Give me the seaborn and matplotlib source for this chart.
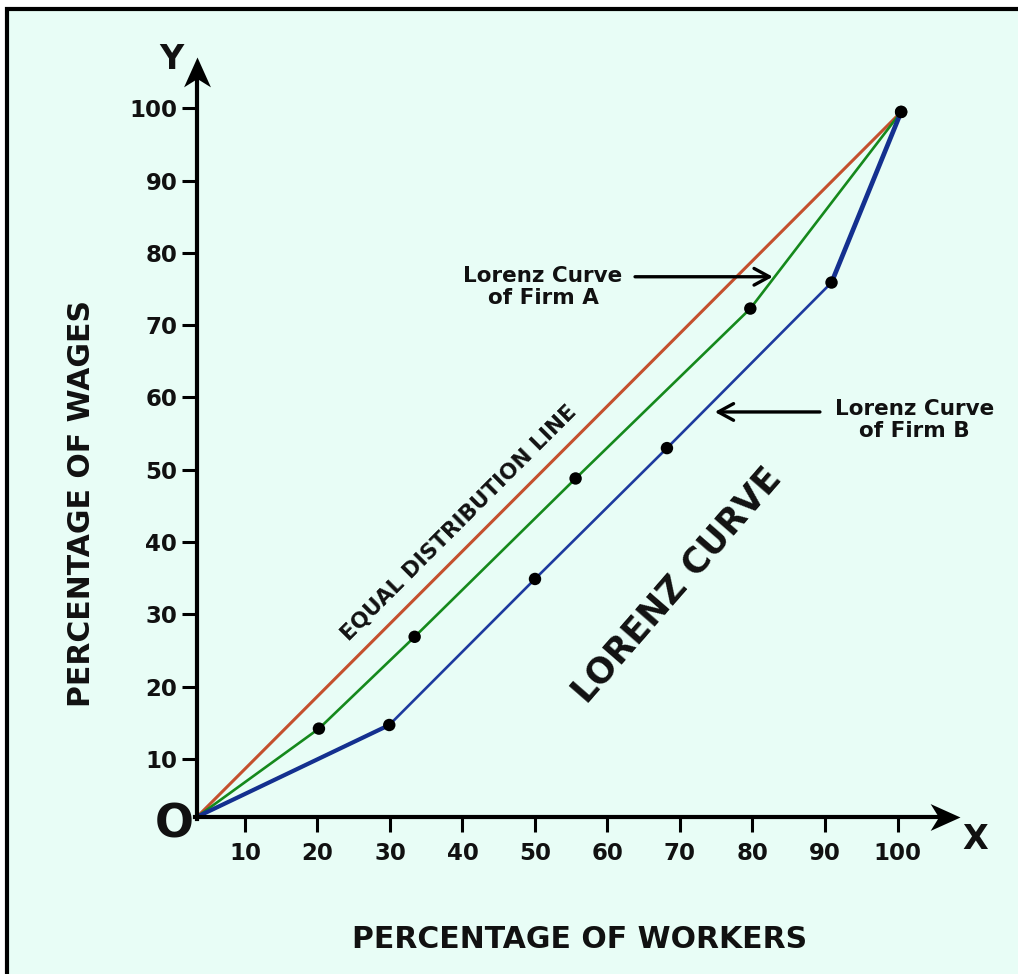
import numpy as np
import pandas as pd
import seaborn as sns
import matplotlib.pyplot as plt
from matplotlib.path import Path
from matplotlib.patches import Rectangle


# values (percent of workers, percent of wages)
equal_x = [3.4, 100.5]
equal_y = [2.0, 99.5]

firm_a_x = [3.4, 20.2, 33.4, 55.6, 79.7, 100.5]
firm_a_y = [2.0, 14.2, 26.9, 48.8, 72.3, 99.5]

firm_b_x = [3.4, 29.9, 50.0, 68.2, 90.9, 100.5]
firm_b_y = [2.0, 14.7, 34.9, 53.0, 75.9, 99.5]

tick_values = [10, 20, 30, 40, 50, 60, 70, 80, 90, 100]

BG = "#e8fdf6"
RED = "#c4502e"
GREEN = "#15891c"
BLUE = "#1d3a9e"
BLUE_DARK = "#14308f"
INK = "#111111"


sns.set_style("white")
plt.rcParams["font.family"] = ["DejaVu Sans"]
plt.rcParams["font.weight"] = "bold"
plt.rcParams["text.color"] = INK

fig = plt.figure(figsize=(10.18, 9.74), dpi=100)
fig.patch.set_facecolor("white")

# cyan panel with black frame (cut on the right and bottom)
frame = Rectangle((7 / 1018, -0.1), 1.2, 1.1 - 9 / 974, transform=fig.transFigure,
                  facecolor=BG, edgecolor="black", linewidth=3, zorder=-1)
fig.add_artist(frame)

ax = fig.add_axes([0, 0, 1, 1])
ax.set_facecolor("none")

x0, y0 = firm_a_x[0], firm_a_y[0]

ax.set_xlim(-23.79, 116.62)
ax.set_ylim(-19.74, 114.98)

for side in ["top", "right"]:
	ax.spines[side].set_visible(False)

ax.spines["left"].set_position(("data", x0))
ax.spines["bottom"].set_position(("data", y0))
ax.spines["left"].set_bounds(y0 - 0.25, 105)
ax.spines["bottom"].set_bounds(x0 - 0.25, 106)
for side in ["left", "bottom"]:
	ax.spines[side].set_linewidth(3)
	ax.spines[side].set_color("black")

ax.set_xticks(tick_values)
ax.set_yticks(tick_values)
ax.tick_params(axis="both", bottom=True, left=True, direction="out", length=10.8, width=2.2,
               color="black", labelsize=16.5, labelcolor=INK)
ax.tick_params(axis="x", pad=7)
ax.tick_params(axis="y", pad=3.5)

# arrow heads at the ends of the axes
head_x = Path([(0, 0), (-1, 0.45), (-0.72, 0), (-1, -0.45), (0, 0)],
              [Path.MOVETO, Path.LINETO, Path.LINETO, Path.LINETO, Path.CLOSEPOLY])
head_y = Path([(0, 0), (0.45, -1), (0, -0.72), (-0.45, -1), (0, 0)],
              [Path.MOVETO, Path.LINETO, Path.LINETO, Path.LINETO, Path.CLOSEPOLY])
ax.plot([108.6], [y0], marker=head_x, markersize=43, color="black", markeredgewidth=0, clip_on=False)
ax.plot([x0], [107.1], marker=head_y, markersize=43, color="black", markeredgewidth=0, clip_on=False)

# curves
sns.lineplot(x=equal_x, y=equal_y, color=RED, linewidth=2.2, estimator=None, sort=False, ax=ax)
sns.lineplot(x=firm_a_x, y=firm_a_y, color=GREEN, linewidth=1.9, estimator=None, sort=False, ax=ax)
sns.lineplot(x=firm_b_x, y=firm_b_y, color=BLUE, linewidth=1.9, estimator=None, sort=False, ax=ax)
# the first and last segments of firm B are drawn heavier
sns.lineplot(x=firm_b_x[:2], y=firm_b_y[:2], color=BLUE_DARK, linewidth=3.0, estimator=None, sort=False, ax=ax)
sns.lineplot(x=firm_b_x[-2:], y=firm_b_y[-2:], color=BLUE_DARK, linewidth=3.4, estimator=None, sort=False, ax=ax)

dots = pd.DataFrame({
	"workers": firm_a_x[1:] + firm_b_x[1:],
	"wages": firm_a_y[1:] + firm_b_y[1:],
})
sns.scatterplot(data=dots, x="workers", y="wages", color="black", s=80, edgecolor="none", zorder=5, ax=ax)
ax.set_xlabel("")
ax.set_ylabel("")

# labels
ax.text(-0.1, 106.8, "Y", fontsize=24, ha="center", va="center")
ax.text(110.7, -1.1, "X", fontsize=24, ha="center", va="center")
ax.text(0.3, 0.9, "O", fontsize=33, ha="center", va="center")

ax.text(56.2, -14.9, "PERCENTAGE OF WORKERS", fontsize=21.5, ha="center", va="center")
ax.text(-12.6, 45.4, "PERCENTAGE OF WAGES", fontsize=21.5, ha="center", va="center", rotation=90)

ax.text(39.5, 42.6, "EQUAL DISTRIBUTION LINE", fontsize=15.5, ha="center", va="center",
        rotation=45, rotation_mode="anchor")
ax.text(69.6, 34.0, "LORENZ CURVE", fontsize=25, ha="center", va="center",
        rotation=49, rotation_mode="anchor")

ax.text(51.1, 75.3, "Lorenz Curve\nof Firm A", fontsize=15.5, ha="center", va="center",
        linespacing=1.1)
ax.text(102.3, 56.9, "Lorenz Curve\nof Firm B", fontsize=15.5, ha="center", va="center",
        linespacing=1.1)

arrow_style = dict(arrowstyle="->,head_length=0.55,head_width=0.3", lw=2.4, color="black",
                   shrinkA=0, shrinkB=0, mutation_scale=20)
ax.annotate("", xy=(82.8, 76.7), xytext=(63.8, 76.7), arrowprops=arrow_style)
ax.annotate("", xy=(74.8, 58.0), xytext=(89.3, 58.0), arrowprops=arrow_style)

plt.savefig("out.png", dpi=100)
